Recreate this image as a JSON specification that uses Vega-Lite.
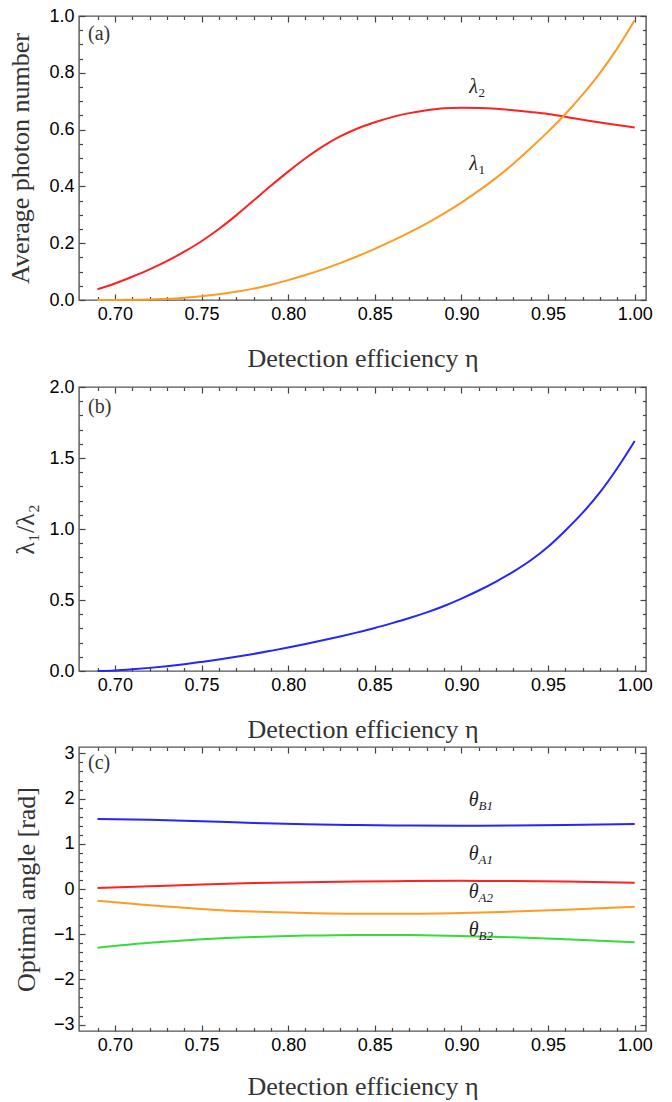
{
  "$schema": "https://vega.github.io/schema/vega-lite/v6.json",
  "padding": {"top": 6, "left": 7, "right": 10, "bottom": 0},
  "spacing": 0,
  "resolve": {"scale": {"color": "independent"}},
  "config": {
    "font": "Liberation Sans",
    "view": {"stroke": "#555555", "strokeWidth": 1.4},
    "axis": {"grid": false, "domain": false, "labelFont": "Liberation Sans", "labelFontSize": 18, "labelColor": "#000000", "tickColor": "#444444", "tickWidth": 1.2, "titleFont": "Liberation Serif", "titleFontSize": 26, "titleFontWeight": "normal", "titleColor": "#333333"},
    "text": {"font": "Liberation Serif"}
  },
  "datasets": {
    "photon": [
      {"eta": 0.69, "v": 0.038, "s": "λ2"}, {"eta": 0.70, "v": 0.058, "s": "λ2"}, {"eta": 0.71, "v": 0.082, "s": "λ2"}, {"eta": 0.72, "v": 0.108, "s": "λ2"}, {"eta": 0.73, "v": 0.137, "s": "λ2"}, {"eta": 0.74, "v": 0.170, "s": "λ2"}, {"eta": 0.75, "v": 0.207, "s": "λ2"}, {"eta": 0.76, "v": 0.250, "s": "λ2"}, {"eta": 0.77, "v": 0.298, "s": "λ2"}, {"eta": 0.78, "v": 0.350, "s": "λ2"}, {"eta": 0.79, "v": 0.402, "s": "λ2"}, {"eta": 0.80, "v": 0.452, "s": "λ2"}, {"eta": 0.81, "v": 0.499, "s": "λ2"}, {"eta": 0.82, "v": 0.541, "s": "λ2"}, {"eta": 0.83, "v": 0.576, "s": "λ2"}, {"eta": 0.84, "v": 0.604, "s": "λ2"}, {"eta": 0.85, "v": 0.626, "s": "λ2"}, {"eta": 0.86, "v": 0.644, "s": "λ2"}, {"eta": 0.87, "v": 0.658, "s": "λ2"}, {"eta": 0.88, "v": 0.668, "s": "λ2"}, {"eta": 0.89, "v": 0.675, "s": "λ2"}, {"eta": 0.90, "v": 0.677, "s": "λ2"}, {"eta": 0.91, "v": 0.676, "s": "λ2"}, {"eta": 0.92, "v": 0.673, "s": "λ2"}, {"eta": 0.93, "v": 0.668, "s": "λ2"}, {"eta": 0.94, "v": 0.662, "s": "λ2"}, {"eta": 0.95, "v": 0.655, "s": "λ2"}, {"eta": 0.96, "v": 0.645, "s": "λ2"}, {"eta": 0.97, "v": 0.635, "s": "λ2"}, {"eta": 0.98, "v": 0.625, "s": "λ2"}, {"eta": 0.99, "v": 0.616, "s": "λ2"}, {"eta": 1.00, "v": 0.607, "s": "λ2"},
      {"eta": 0.69, "v": 0.000, "s": "λ1"}, {"eta": 0.70, "v": 0.000, "s": "λ1"}, {"eta": 0.71, "v": 0.001, "s": "λ1"}, {"eta": 0.72, "v": 0.002, "s": "λ1"}, {"eta": 0.73, "v": 0.004, "s": "λ1"}, {"eta": 0.74, "v": 0.008, "s": "λ1"}, {"eta": 0.75, "v": 0.013, "s": "λ1"}, {"eta": 0.76, "v": 0.020, "s": "λ1"}, {"eta": 0.77, "v": 0.029, "s": "λ1"}, {"eta": 0.78, "v": 0.040, "s": "λ1"}, {"eta": 0.79, "v": 0.054, "s": "λ1"}, {"eta": 0.80, "v": 0.070, "s": "λ1"}, {"eta": 0.81, "v": 0.088, "s": "λ1"}, {"eta": 0.82, "v": 0.108, "s": "λ1"}, {"eta": 0.83, "v": 0.130, "s": "λ1"}, {"eta": 0.84, "v": 0.154, "s": "λ1"}, {"eta": 0.85, "v": 0.180, "s": "λ1"}, {"eta": 0.86, "v": 0.208, "s": "λ1"}, {"eta": 0.87, "v": 0.238, "s": "λ1"}, {"eta": 0.88, "v": 0.270, "s": "λ1"}, {"eta": 0.89, "v": 0.305, "s": "λ1"}, {"eta": 0.90, "v": 0.343, "s": "λ1"}, {"eta": 0.91, "v": 0.385, "s": "λ1"}, {"eta": 0.92, "v": 0.430, "s": "λ1"}, {"eta": 0.93, "v": 0.480, "s": "λ1"}, {"eta": 0.94, "v": 0.535, "s": "λ1"}, {"eta": 0.95, "v": 0.593, "s": "λ1"}, {"eta": 0.96, "v": 0.655, "s": "λ1"}, {"eta": 0.97, "v": 0.724, "s": "λ1"}, {"eta": 0.98, "v": 0.800, "s": "λ1"}, {"eta": 0.99, "v": 0.887, "s": "λ1"}, {"eta": 1.00, "v": 0.985, "s": "λ1"}
    ],
    "ratio": [
      {"eta": 0.69, "v": 0.000}, {"eta": 0.70, "v": 0.004}, {"eta": 0.71, "v": 0.012}, {"eta": 0.72, "v": 0.022}, {"eta": 0.73, "v": 0.034}, {"eta": 0.74, "v": 0.048}, {"eta": 0.75, "v": 0.064}, {"eta": 0.76, "v": 0.081}, {"eta": 0.77, "v": 0.100}, {"eta": 0.78, "v": 0.120}, {"eta": 0.79, "v": 0.142}, {"eta": 0.80, "v": 0.165}, {"eta": 0.81, "v": 0.190}, {"eta": 0.82, "v": 0.216}, {"eta": 0.83, "v": 0.243}, {"eta": 0.84, "v": 0.272}, {"eta": 0.85, "v": 0.303}, {"eta": 0.86, "v": 0.337}, {"eta": 0.87, "v": 0.373}, {"eta": 0.88, "v": 0.413}, {"eta": 0.89, "v": 0.458}, {"eta": 0.90, "v": 0.510}, {"eta": 0.91, "v": 0.567}, {"eta": 0.92, "v": 0.630}, {"eta": 0.93, "v": 0.700}, {"eta": 0.94, "v": 0.780}, {"eta": 0.95, "v": 0.875}, {"eta": 0.96, "v": 0.990}, {"eta": 0.97, "v": 1.115}, {"eta": 0.98, "v": 1.260}, {"eta": 0.99, "v": 1.430}, {"eta": 1.00, "v": 1.620}
    ],
    "angle": [
      {"eta": 0.69, "v": 1.55, "s": "θB1"}, {"eta": 0.72, "v": 1.53, "s": "θB1"}, {"eta": 0.75, "v": 1.50, "s": "θB1"}, {"eta": 0.78, "v": 1.46, "s": "θB1"}, {"eta": 0.81, "v": 1.43, "s": "θB1"}, {"eta": 0.84, "v": 1.415, "s": "θB1"}, {"eta": 0.87, "v": 1.405, "s": "θB1"}, {"eta": 0.90, "v": 1.40, "s": "θB1"}, {"eta": 0.93, "v": 1.405, "s": "θB1"}, {"eta": 0.96, "v": 1.415, "s": "θB1"}, {"eta": 1.00, "v": 1.44, "s": "θB1"},
      {"eta": 0.69, "v": 0.02, "s": "θA1"}, {"eta": 0.72, "v": 0.06, "s": "θA1"}, {"eta": 0.75, "v": 0.10, "s": "θA1"}, {"eta": 0.78, "v": 0.13, "s": "θA1"}, {"eta": 0.81, "v": 0.15, "s": "θA1"}, {"eta": 0.84, "v": 0.165, "s": "θA1"}, {"eta": 0.87, "v": 0.175, "s": "θA1"}, {"eta": 0.90, "v": 0.18, "s": "θA1"}, {"eta": 0.93, "v": 0.175, "s": "θA1"}, {"eta": 0.96, "v": 0.165, "s": "θA1"}, {"eta": 1.00, "v": 0.14, "s": "θA1"},
      {"eta": 0.69, "v": -0.26, "s": "θA2"}, {"eta": 0.72, "v": -0.36, "s": "θA2"}, {"eta": 0.75, "v": -0.44, "s": "θA2"}, {"eta": 0.78, "v": -0.50, "s": "θA2"}, {"eta": 0.81, "v": -0.53, "s": "θA2"}, {"eta": 0.84, "v": -0.545, "s": "θA2"}, {"eta": 0.87, "v": -0.545, "s": "θA2"}, {"eta": 0.90, "v": -0.53, "s": "θA2"}, {"eta": 0.93, "v": -0.50, "s": "θA2"}, {"eta": 0.96, "v": -0.46, "s": "θA2"}, {"eta": 1.00, "v": -0.39, "s": "θA2"},
      {"eta": 0.69, "v": -1.30, "s": "θB2"}, {"eta": 0.72, "v": -1.19, "s": "θB2"}, {"eta": 0.75, "v": -1.11, "s": "θB2"}, {"eta": 0.78, "v": -1.06, "s": "θB2"}, {"eta": 0.81, "v": -1.03, "s": "θB2"}, {"eta": 0.84, "v": -1.015, "s": "θB2"}, {"eta": 0.87, "v": -1.02, "s": "θB2"}, {"eta": 0.90, "v": -1.04, "s": "θB2"}, {"eta": 0.93, "v": -1.07, "s": "θB2"}, {"eta": 0.96, "v": -1.11, "s": "θB2"}, {"eta": 1.00, "v": -1.18, "s": "θB2"}
    ],
    "labA": [
      {"eta": 0.907, "v": 0.75, "main": "λ", "sub": "2"},
      {"eta": 0.907, "v": 0.48, "main": "λ", "sub": "1"}
    ],
    "labC": [
      {"eta": 0.907, "v": 1.96, "main": "θ", "sub": "B1"},
      {"eta": 0.907, "v": 0.77, "main": "θ", "sub": "A1"},
      {"eta": 0.907, "v": -0.07, "main": "θ", "sub": "A2"},
      {"eta": 0.907, "v": -0.91, "main": "θ", "sub": "B2"}
    ],
    "tagA": [{"eta": 0.6845, "v": 0.937, "tag": "(a)"}],
    "tagB": [{"eta": 0.6845, "v": 1.86, "tag": "(b)"}],
    "tagC": [{"eta": 0.6845, "v": 2.79, "tag": "(c)"}]
  },
  "vconcat": [
    {
      "width": 567, "height": 284,
      "resolve": {"axis": {"x": "independent", "y": "independent"}},
      "layer": [
        {
          "data": {"name": "photon"},
          "mark": {"type": "line", "strokeWidth": 2, "interpolate": "monotone"},
          "encoding": {
            "x": {"field": "eta", "type": "quantitative", "scale": {"domain": [0.6793, 1.0065], "nice": false, "zero": false},
                  "axis": {"orient": "bottom", "offset": -6, "values": [0.7, 0.75, 0.8, 0.85, 0.9, 0.95, 1.0], "format": ".2f", "tickSize": 6, "labelPadding": 5, "title": ["Detection efficiency η", ""], "titleLineHeight": 5, "titlePadding": 22}},
            "y": {"field": "v", "type": "quantitative", "scale": {"domain": [0, 1], "nice": false},
                  "axis": {"orient": "left", "offset": -6, "values": [0, 0.2, 0.4, 0.6, 0.8, 1.0], "format": ".1f", "tickSize": 6, "labelPadding": 5, "title": "Average photon number", "titlePadding": 15}},
            "color": {"field": "s", "type": "nominal", "scale": {"domain": ["λ1", "λ2"], "range": ["#ff9a22", "#ff2020"]}, "legend": null}
          }
        },
        {
          "data": {"name": "photon"},
          "mark": {"type": "point", "opacity": 0},
          "encoding": {
            "x": {"field": "eta", "type": "quantitative", "axis": {"orient": "top", "offset": -6, "values": [0.7, 0.75, 0.8, 0.85, 0.9, 0.95, 1.0], "labels": false, "tickSize": 6, "title": null}},
            "y": {"field": "v", "type": "quantitative", "axis": {"orient": "right", "offset": -6, "values": [0, 0.2, 0.4, 0.6, 0.8, 1.0], "labels": false, "tickSize": 6, "title": null}}
          }
        },
        {
          "data": {"name": "photon"},
          "mark": {"type": "point", "opacity": 0},
          "encoding": {
            "x": {"field": "eta", "type": "quantitative", "axis": {"orient": "bottom", "offset": -3.5, "values": [0.69, 0.71, 0.72, 0.73, 0.74, 0.76, 0.77, 0.78, 0.79, 0.81, 0.82, 0.83, 0.84, 0.86, 0.87, 0.88, 0.89, 0.91, 0.92, 0.93, 0.94, 0.96, 0.97, 0.98, 0.99], "labels": false, "tickSize": 3.5, "title": null}},
            "y": {"field": "v", "type": "quantitative", "axis": {"orient": "left", "offset": -3.5, "values": [0.05, 0.1, 0.15, 0.25, 0.3, 0.35, 0.45, 0.5, 0.55, 0.65, 0.7, 0.75, 0.85, 0.9, 0.95], "labels": false, "tickSize": 3.5, "title": null}}
          }
        },
        {
          "data": {"name": "photon"},
          "mark": {"type": "point", "opacity": 0},
          "encoding": {
            "x": {"field": "eta", "type": "quantitative", "axis": {"orient": "top", "offset": -3.5, "values": [0.69, 0.71, 0.72, 0.73, 0.74, 0.76, 0.77, 0.78, 0.79, 0.81, 0.82, 0.83, 0.84, 0.86, 0.87, 0.88, 0.89, 0.91, 0.92, 0.93, 0.94, 0.96, 0.97, 0.98, 0.99], "labels": false, "tickSize": 3.5, "title": null}},
            "y": {"field": "v", "type": "quantitative", "axis": {"orient": "right", "offset": -3.5, "values": [0.05, 0.1, 0.15, 0.25, 0.3, 0.35, 0.45, 0.5, 0.55, 0.65, 0.7, 0.75, 0.85, 0.9, 0.95], "labels": false, "tickSize": 3.5, "title": null}}
          }
        },
        {
          "data": {"name": "labA"},
          "mark": {"type": "text", "fontStyle": "italic", "fontSize": 20, "align": "center", "baseline": "middle", "color": "#222222"},
          "encoding": {"x": {"field": "eta", "type": "quantitative", "axis": null}, "y": {"field": "v", "type": "quantitative", "axis": null}, "text": {"field": "main"}}
        },
        {
          "data": {"name": "labA"},
          "mark": {"type": "text", "fontSize": 13, "align": "left", "baseline": "middle", "dx": 5, "dy": 6, "color": "#222222"},
          "encoding": {"x": {"field": "eta", "type": "quantitative", "axis": null}, "y": {"field": "v", "type": "quantitative", "axis": null}, "text": {"field": "sub"}}
        },
        {
          "data": {"name": "tagA"},
          "mark": {"type": "text", "fontSize": 20, "align": "left", "baseline": "middle", "color": "#333333"},
          "encoding": {"x": {"field": "eta", "type": "quantitative", "axis": null}, "y": {"field": "v", "type": "quantitative", "axis": null}, "text": {"field": "tag"}}
        }
      ]
    },
    {
      "width": 567, "height": 284,
      "resolve": {"axis": {"x": "independent", "y": "independent"}},
      "layer": [
        {
          "data": {"name": "ratio"},
          "mark": {"type": "line", "strokeWidth": 2, "interpolate": "monotone", "color": "#2525ff"},
          "encoding": {
            "x": {"field": "eta", "type": "quantitative", "scale": {"domain": [0.6793, 1.0065], "nice": false, "zero": false},
                  "axis": {"orient": "bottom", "offset": -6, "values": [0.7, 0.75, 0.8, 0.85, 0.9, 0.95, 1.0], "format": ".2f", "tickSize": 6, "labelPadding": 5, "title": "Detection efficiency η", "titlePadding": 22}},
            "y": {"field": "v", "type": "quantitative", "scale": {"domain": [0, 2], "nice": false},
                  "axis": {"orient": "left", "offset": -6, "values": [0, 0.5, 1.0, 1.5, 2.0], "format": ".1f", "tickSize": 6, "labelPadding": 5, "title": "λ₁/λ₂", "titleFontSize": 26, "titlePadding": 10}}
          }
        },
        {
          "data": {"name": "ratio"},
          "mark": {"type": "point", "opacity": 0},
          "encoding": {
            "x": {"field": "eta", "type": "quantitative", "axis": {"orient": "top", "offset": -6, "values": [0.7, 0.75, 0.8, 0.85, 0.9, 0.95, 1.0], "labels": false, "tickSize": 6, "title": null}},
            "y": {"field": "v", "type": "quantitative", "axis": {"orient": "right", "offset": -6, "values": [0, 0.5, 1.0, 1.5, 2.0], "labels": false, "tickSize": 6, "title": null}}
          }
        },
        {
          "data": {"name": "ratio"},
          "mark": {"type": "point", "opacity": 0},
          "encoding": {
            "x": {"field": "eta", "type": "quantitative", "axis": {"orient": "bottom", "offset": -3.5, "values": [0.69, 0.71, 0.72, 0.73, 0.74, 0.76, 0.77, 0.78, 0.79, 0.81, 0.82, 0.83, 0.84, 0.86, 0.87, 0.88, 0.89, 0.91, 0.92, 0.93, 0.94, 0.96, 0.97, 0.98, 0.99], "labels": false, "tickSize": 3.5, "title": null}},
            "y": {"field": "v", "type": "quantitative", "axis": {"orient": "left", "offset": -3.5, "values": [0.1, 0.2, 0.3, 0.4, 0.6, 0.7, 0.8, 0.9, 1.1, 1.2, 1.3, 1.4, 1.6, 1.7, 1.8, 1.9], "labels": false, "tickSize": 3.5, "title": null}}
          }
        },
        {
          "data": {"name": "ratio"},
          "mark": {"type": "point", "opacity": 0},
          "encoding": {
            "x": {"field": "eta", "type": "quantitative", "axis": {"orient": "top", "offset": -3.5, "values": [0.69, 0.71, 0.72, 0.73, 0.74, 0.76, 0.77, 0.78, 0.79, 0.81, 0.82, 0.83, 0.84, 0.86, 0.87, 0.88, 0.89, 0.91, 0.92, 0.93, 0.94, 0.96, 0.97, 0.98, 0.99], "labels": false, "tickSize": 3.5, "title": null}},
            "y": {"field": "v", "type": "quantitative", "axis": {"orient": "right", "offset": -3.5, "values": [0.1, 0.2, 0.3, 0.4, 0.6, 0.7, 0.8, 0.9, 1.1, 1.2, 1.3, 1.4, 1.6, 1.7, 1.8, 1.9], "labels": false, "tickSize": 3.5, "title": null}}
          }
        },
        {
          "data": {"name": "tagB"},
          "mark": {"type": "text", "fontSize": 20, "align": "left", "baseline": "middle", "color": "#333333"},
          "encoding": {"x": {"field": "eta", "type": "quantitative", "axis": null}, "y": {"field": "v", "type": "quantitative", "axis": null}, "text": {"field": "tag"}}
        }
      ]
    },
    {
      "width": 567, "height": 284,
      "resolve": {"axis": {"x": "independent", "y": "independent"}},
      "layer": [
        {
          "mark": {"type": "rule", "color": "#999999", "strokeWidth": 1.5},
          "encoding": {"y": {"datum": 0, "type": "quantitative", "axis": null}}
        },
        {
          "data": {"name": "angle"},
          "mark": {"type": "line", "strokeWidth": 2, "interpolate": "monotone"},
          "encoding": {
            "x": {"field": "eta", "type": "quantitative", "scale": {"domain": [0.6793, 1.0065], "nice": false, "zero": false},
                  "axis": {"orient": "bottom", "offset": -6, "values": [0.7, 0.75, 0.8, 0.85, 0.9, 0.95, 1.0], "format": ".2f", "tickSize": 6, "labelPadding": 5, "title": "Detection efficiency η", "titlePadding": 19}},
            "y": {"field": "v", "type": "quantitative", "scale": {"domain": [-3.1416, 3.1416], "nice": false, "zero": false},
                  "axis": {"orient": "left", "offset": -6, "values": [-3, -2, -1, 0, 1, 2, 3], "format": "d", "tickSize": 6, "labelPadding": 5, "title": "Optimal angle [rad]", "titlePadding": 14}},
            "color": {"field": "s", "type": "nominal", "scale": {"domain": ["θB1", "θA1", "θA2", "θB2"], "range": ["#2525ff", "#ff2020", "#ff9a22", "#33dd33"]}, "legend": null}
          }
        },
        {
          "data": {"name": "angle"},
          "mark": {"type": "point", "opacity": 0},
          "encoding": {
            "x": {"field": "eta", "type": "quantitative", "axis": {"orient": "top", "offset": -6, "values": [0.7, 0.75, 0.8, 0.85, 0.9, 0.95, 1.0], "labels": false, "tickSize": 6, "title": null}},
            "y": {"field": "v", "type": "quantitative", "axis": {"orient": "right", "offset": -6, "values": [-3, -2, -1, 0, 1, 2, 3], "labels": false, "tickSize": 6, "title": null}}
          }
        },
        {
          "data": {"name": "angle"},
          "mark": {"type": "point", "opacity": 0},
          "encoding": {
            "x": {"field": "eta", "type": "quantitative", "axis": {"orient": "bottom", "offset": -3.5, "values": [0.69, 0.71, 0.72, 0.73, 0.74, 0.76, 0.77, 0.78, 0.79, 0.81, 0.82, 0.83, 0.84, 0.86, 0.87, 0.88, 0.89, 0.91, 0.92, 0.93, 0.94, 0.96, 0.97, 0.98, 0.99], "labels": false, "tickSize": 3.5, "title": null}},
            "y": {"field": "v", "type": "quantitative", "axis": {"orient": "left", "offset": -3.5, "values": [-2.8, -2.6, -2.4, -2.2, -1.8, -1.6, -1.4, -1.2, -0.8, -0.6, -0.4, -0.2, 0.2, 0.4, 0.6, 0.8, 1.2, 1.4, 1.6, 1.8, 2.2, 2.4, 2.6, 2.8], "labels": false, "tickSize": 3.5, "title": null}}
          }
        },
        {
          "data": {"name": "angle"},
          "mark": {"type": "point", "opacity": 0},
          "encoding": {
            "x": {"field": "eta", "type": "quantitative", "axis": {"orient": "top", "offset": -3.5, "values": [0.69, 0.71, 0.72, 0.73, 0.74, 0.76, 0.77, 0.78, 0.79, 0.81, 0.82, 0.83, 0.84, 0.86, 0.87, 0.88, 0.89, 0.91, 0.92, 0.93, 0.94, 0.96, 0.97, 0.98, 0.99], "labels": false, "tickSize": 3.5, "title": null}},
            "y": {"field": "v", "type": "quantitative", "axis": {"orient": "right", "offset": -3.5, "values": [-2.8, -2.6, -2.4, -2.2, -1.8, -1.6, -1.4, -1.2, -0.8, -0.6, -0.4, -0.2, 0.2, 0.4, 0.6, 0.8, 1.2, 1.4, 1.6, 1.8, 2.2, 2.4, 2.6, 2.8], "labels": false, "tickSize": 3.5, "title": null}}
          }
        },
        {
          "data": {"name": "labC"},
          "mark": {"type": "text", "fontStyle": "italic", "fontSize": 20, "align": "center", "baseline": "middle", "color": "#222222"},
          "encoding": {"x": {"field": "eta", "type": "quantitative", "axis": null}, "y": {"field": "v", "type": "quantitative", "axis": null}, "text": {"field": "main"}}
        },
        {
          "data": {"name": "labC"},
          "mark": {"type": "text", "fontSize": 13, "fontStyle": "italic", "align": "left", "baseline": "middle", "dx": 5, "dy": 6, "color": "#222222"},
          "encoding": {"x": {"field": "eta", "type": "quantitative", "axis": null}, "y": {"field": "v", "type": "quantitative", "axis": null}, "text": {"field": "sub"}}
        },
        {
          "data": {"name": "tagC"},
          "mark": {"type": "text", "fontSize": 20, "align": "left", "baseline": "middle", "color": "#333333"},
          "encoding": {"x": {"field": "eta", "type": "quantitative", "axis": null}, "y": {"field": "v", "type": "quantitative", "axis": null}, "text": {"field": "tag"}}
        }
      ]
    }
  ]
}
